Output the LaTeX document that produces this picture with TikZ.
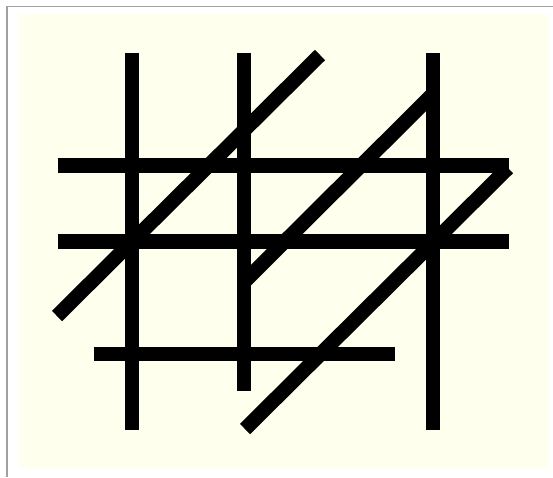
\documentclass[tikz,border=0pt]{standalone}
\usetikzlibrary{positioning}
\definecolor{paper}{RGB}{255,255,238}
\definecolor{frame}{RGB}{160,160,160}
\tikzset{
  bar/.style={draw=black, line width=14.5pt, line cap=butt},
  edge/.style={draw=frame, line width=1.5pt},
}

\begin{document}
\begin{tikzpicture}[x=1pt, y=-1pt]
    \useasboundingbox (0,0) rectangle (553,477);
    \fill[white] (0,0) rectangle (553,477);
    \fill[paper] (19,14) rectangle (548,468);
    \draw[edge] (7,477) -- (7,6.5) -- (553,6.5);
    % verticals
    \coordinate (v1top) at (132,53);   \coordinate (v1bot) at (132,430);
    \coordinate (v2top) at (244,53);   \coordinate (v2bot) at (244,391);
    \coordinate (v3top) at (433,53);   \coordinate (v3bot) at (433,430);
    % horizontals
    \coordinate (h1left) at (57.5,165.5); \coordinate (h1right) at (509,165.5);
    \coordinate (h2left) at (57.5,241.5); \coordinate (h2right) at (509,241.5);
    \coordinate (h3left) at (93.5,354);   \coordinate (h3right) at (395,354);
    % diagonals
    \coordinate (d1low) at (57,316);   \coordinate (d1high) at (320,55);
    \coordinate (d2low) at (244,282);  \coordinate (d2high) at (433,94);
    \coordinate (d3low) at (245,429);  \coordinate (d3high) at (508,168);
    \draw[bar] (v1top) -- (v1bot);
    \draw[bar] (v2top) -- (v2bot);
    \draw[bar] (v3top) -- (v3bot);
    \draw[bar] (h1left) -- (h1right);
    \draw[bar] (h2left) -- (h2right);
    \draw[bar] (h3left) -- (h3right);
    \draw[bar] (d1low) -- (d1high);
    \draw[bar] (d2low) -- (d2high);
    \draw[bar] (d3low) -- (d3high);
  \end{tikzpicture}
\end{document}
